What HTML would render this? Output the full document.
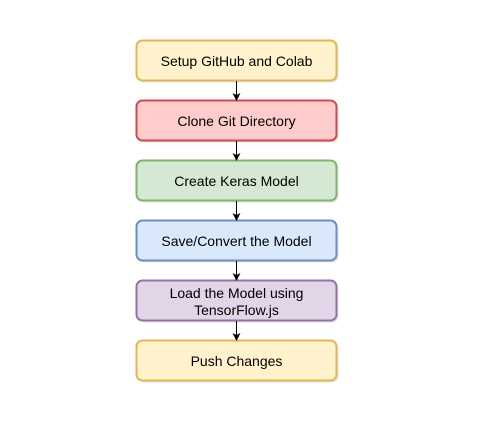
<!DOCTYPE html>
<html><head><style>body{margin:0;background:#fff}</style></head><body>
<svg width="488" height="426" xmlns="http://www.w3.org/2000/svg" font-family="Liberation Sans, sans-serif" font-size="14" text-anchor="middle">
<defs><marker id="a" markerWidth="8" markerHeight="8" refX="7" refY="4" orient="auto" markerUnits="userSpaceOnUse"><path d="M0,0 L8,4 L0,8 L2,4 z" fill="#000"/></marker></defs>
<g stroke-width="2">
<rect x="138.5" y="42.5" width="200" height="40" rx="6" fill="#ccc" stroke="none" opacity="0.5"/>
<rect x="136.5" y="40.5" width="200" height="40" rx="6" fill="#fff2cc" stroke="#e0b850"/>
<rect x="138.5" y="102.5" width="200" height="40" rx="6" fill="#ccc" stroke="none" opacity="0.5"/>
<rect x="136.5" y="100.5" width="200" height="40" rx="6" fill="#ffcccc" stroke="#cc4c4c"/>
<rect x="138.5" y="162.5" width="200" height="40" rx="6" fill="#ccc" stroke="none" opacity="0.5"/>
<rect x="136.5" y="160.5" width="200" height="40" rx="6" fill="#d5e8d4" stroke="#82b366"/>
<rect x="138.5" y="222.5" width="200" height="40" rx="6" fill="#ccc" stroke="none" opacity="0.5"/>
<rect x="136.5" y="220.5" width="200" height="40" rx="6" fill="#dae8fc" stroke="#6c8ebf"/>
<rect x="138.5" y="282.5" width="200" height="40" rx="6" fill="#ccc" stroke="none" opacity="0.5"/>
<rect x="136.5" y="280.5" width="200" height="40" rx="6" fill="#e1d5e7" stroke="#9673a6"/>
<rect x="138.5" y="342.5" width="200" height="40" rx="6" fill="#ccc" stroke="none" opacity="0.5"/>
<rect x="136.5" y="340.5" width="200" height="40" rx="6" fill="#fff2cc" stroke="#e0b850"/>
</g>
<g stroke="#000" stroke-width="1" marker-end="url(#a)">
<line x1="236.5" y1="81" x2="236.5" y2="100"/>
<line x1="236.5" y1="141" x2="236.5" y2="160"/>
<line x1="236.5" y1="201" x2="236.5" y2="220"/>
<line x1="236.5" y1="261" x2="236.5" y2="280"/>
<line x1="236.5" y1="321" x2="236.5" y2="340"/>
</g>
<g fill="#000">
<text x="236.5" y="66">Setup GitHub and Colab</text>
<text x="236.5" y="126">Clone Git Directory</text>
<text x="236.5" y="186">Create Keras Model</text>
<text x="236.5" y="246">Save/Convert the Model</text>
<text x="236.5" y="298">Load the Model using</text>
<text x="236.5" y="315">TensorFlow.js</text>
<text x="236.5" y="366">Push Changes</text>
</g>
</svg>
</body></html>
